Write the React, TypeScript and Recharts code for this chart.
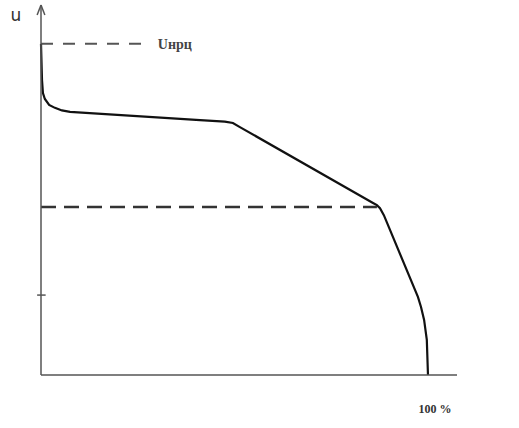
import React from "react";
import {
  LineChart,
  Line,
  XAxis,
  YAxis,
  ReferenceLine,
  ReferenceDot,
} from "recharts";

//========== Data ==========
const loadPct = [0, 0.26, 0.5, 1.0, 2.1, 3.6, 5.4, 7.5, 41.1, 47.5, 49.6, 51.4, 85.8, 86.8, 87.6, 88.6, 97.4, 98.2, 99.0, 99.7, 100];
const voltage = [89.5, 79.7, 76.2, 74.6, 73.0, 72.2, 71.5, 71.1, 68.9, 68.5, 68.1, 67.0, 46.5, 45.9, 45.1, 43.2, 21.1, 18.4, 14.9, 9.5, 0];
const uNrc = 89.5;
const uNrcEnd = 27.6;
const uKnee = 45.4;
const uKneeEnd = 86.8;
const yTick = 21.6;
const xTicks = [100];

const data = loadPct.map((x, i) => ({ x, u: voltage[i] }));

const serif = "'Liberation Serif', 'Times New Roman', serif";

//========== Chart ==========
const App: React.FC = () => {
  return (
    <div style={{ position: "absolute", left: 0, top: 0, background: "#fff" }}>
      <LineChart
        width={519}
        height={428}
        data={data}
        margin={{ top: 5, right: 62, bottom: 0, left: 0 }}
      >
        <XAxis
          type="number"
          dataKey="x"
          domain={[0, 107.5]}
          ticks={xTicks}
          height={53}
          axisLine={{ stroke: "#555", strokeWidth: 1.5 }}
          tickLine={false}
          tickMargin={23}
          tickFormatter={(v) => `${v} %`}
          tick={{ fontFamily: serif, fontSize: 12, fontWeight: "bold", fill: "#333", dx: 7 }}
        />
        <YAxis
          type="number"
          domain={[0, 100]}
          width={41}
          tick={false}
          tickLine={false}
          axisLine={{ stroke: "#555", strokeWidth: 1.5 }}
        />
        {/*========== Arrow, tick ==========*/}
        <ReferenceLine segment={[{ x: 0, y: 100 }, { x: -1, y: 97.3 }]} stroke="#555" strokeWidth={1.5} ifOverflow="visible" />
        <ReferenceLine segment={[{ x: 0, y: 100 }, { x: 1, y: 97.3 }]} stroke="#555" strokeWidth={1.5} ifOverflow="visible" />
        <ReferenceLine segment={[{ x: -1, y: yTick }, { x: 1.2, y: yTick }]} stroke="#555" strokeWidth={1.5} ifOverflow="visible" />
        {/*========== Dashed levels ==========*/}
        <ReferenceLine segment={[{ x: 0, y: uNrc }, { x: uNrcEnd, y: uNrc }]} stroke="#555" strokeWidth={2} strokeDasharray="12 10" />
        <ReferenceLine segment={[{ x: 0, y: uKnee }, { x: uKneeEnd, y: uKnee }]} stroke="#333" strokeWidth={2.5} strokeDasharray="15 8" />
        <ReferenceDot
          x={uNrcEnd}
          y={uNrc}
          r={0}
          ifOverflow="visible"
          label={{ value: "Uнрц", position: "right", offset: 10, fontFamily: serif, fontSize: 14, fontWeight: "bold", fill: "#444" }}
        />
        <ReferenceDot
          x={-6.5}
          y={97.3}
          r={0}
          ifOverflow="visible"
          label={{ value: "u", position: "center", fontFamily: "'DejaVu Sans', sans-serif", fontSize: 17, fill: "#333" }}
        />
        <Line
          type="linear"
          dataKey="u"
          stroke="#111"
          strokeWidth={2.2}
          dot={false}
          isAnimationActive={false}
        />
      </LineChart>
    </div>
  );
};

export default App;
